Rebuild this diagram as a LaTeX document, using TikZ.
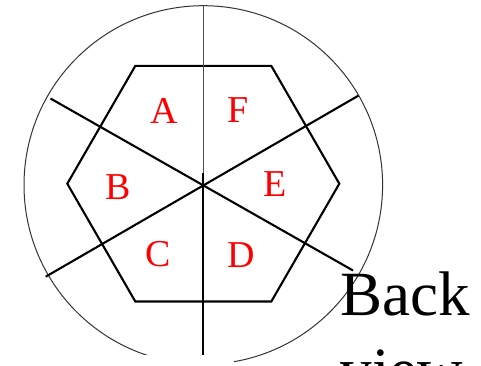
\documentclass[tikz,border=0pt]{standalone}
\usepackage{fontspec}
\setmainfont{Liberation Serif}
\begin{document}
\begin{tikzpicture}[x=1pt,y=-1pt,
  thinline/.style={line width=1pt,draw=black!80},
  heavy/.style={line width=2.1pt,draw=black},
  axisthin/.style={line width=1.2pt,draw=black!70},
  sector/.style={text=red,font=\fontsize{38}{40}\selectfont,inner sep=0pt},
  caption/.style={font=\fontsize{63}{75}\selectfont,inner sep=0pt,anchor=base west}]
\useasboundingbox (0,0) rectangle (481,366);
\clip (0,0) rectangle (481,366);
% centre
\coordinate (O) at (203.3,185);
% outer circle
\draw[thinline] (O) circle[radius=179.3pt];
% hexagon
\coordinate (h1) at (339.3,183.7);
\coordinate (h2) at (271.3,65.9);
\coordinate (h3) at (135.3,65.9);
\coordinate (h4) at (67.3,183.7);
\coordinate (h5) at (135.3,301.5);
\coordinate (h6) at (271.3,301.5);
\draw[heavy,line join=miter] (h1) -- (h2) -- (h3) -- (h4) -- (h5) -- (h6) -- cycle;
% dividing lines
\coordinate (ul) at (50.5,98.5);
\coordinate (lr) at (353,270.5);
\coordinate (ll) at (45.7,276.7);
\coordinate (ur) at (358.3,95.7);
\coordinate (vt) at (203.3,5.5);
\coordinate (vm) at (203.3,185.5);
\coordinate (vs) at (203.3,173);
\coordinate (vb) at (203.3,354.5);
\draw[heavy] (ul) -- (lr);
\draw[heavy] (ll) -- (ur);
\draw[axisthin] (vt) -- (vm);
\draw[heavy] (vs) -- (vb);
% cut-off strip at the bottom
\fill[white] (0,354.5) rectangle (234,367);
% sector labels
\node[sector] (A) at (164,110.5) {A};
\node[sector] (F) at (238.3,110) {F};
\node[sector] (B) at (118,187.5) {B};
\node[sector] (E) at (275.3,184.5) {E};
\node[sector] (C) at (158.3,254.5) {C};
\node[sector] (D) at (241.7,255.5) {D};
% caption
\node[caption] (back) at (340.5,315) {Back};
\node[caption] (view) at (340.5,391.5) {view};
\end{tikzpicture}
\end{document}
